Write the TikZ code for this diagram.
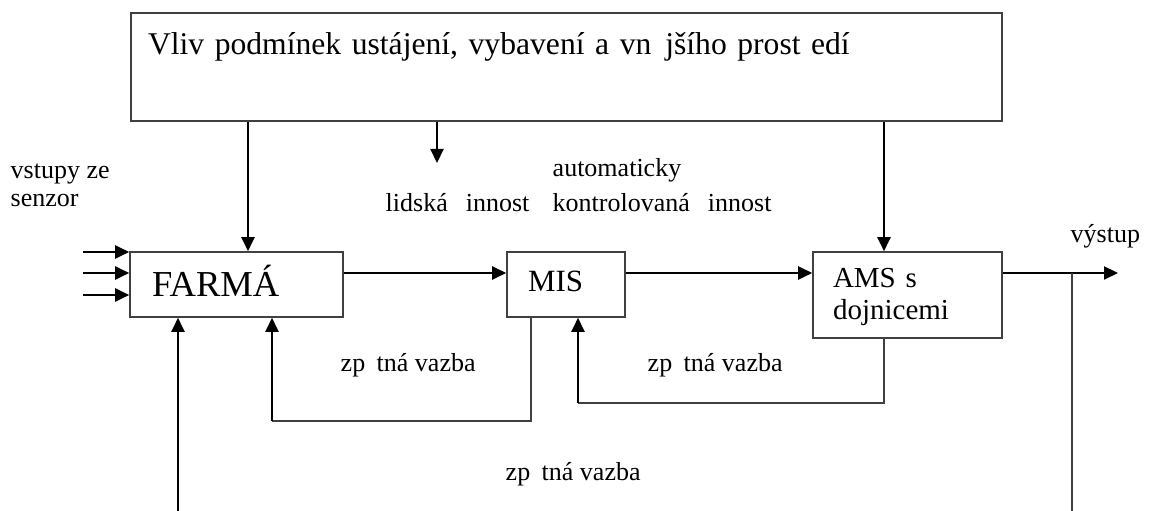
\documentclass[tikz,border=0pt]{standalone}
\usepackage{fontspec}
\setmainfont{Liberation Serif}
\usetikzlibrary{arrows.meta}
\begin{document}
\begin{tikzpicture}[every node/.style={font=\fontsize{7.4}{8.3}\selectfont},
  box/.style={draw=black!75,line width=0.45pt,align=left,inner ysep=0pt},
  arr/.style={-{Triangle[length=1.4mm,width=1.3mm]},line width=0.6pt},
  fb/.style={draw=black!75,line width=0.45pt},
  lbl/.style={inner sep=0pt,anchor=base west,align=left}]
  \useasboundingbox (0,0) rectangle (11.49,5.11);
  \node[box,minimum width=8.71cm,minimum height=1.08cm,inner xsep=0.17cm,text width=8.37cm,text height=0.23cm,text depth=0.47cm,font=\fontsize{9}{10}\selectfont] (env) at (5.665,4.44) {Vliv podmínek ustájení, vybavení a vn\hspace{0.44em}jšího prost\hspace{0.33em}edí};
  \node[box,minimum width=2.13cm,minimum height=0.65cm,inner xsep=0.22cm,text width=1.69cm,text height=0.25cm,text depth=0pt,font=\fontsize{10.4}{11}\selectfont] (farm) at (2.365,2.265) {FARMÁ};
  \node[box,minimum width=1.18cm,minimum height=0.65cm,inner xsep=0.21cm,text width=0.76cm,text height=0.15cm,text depth=0pt,font=\fontsize{8.8}{9}\selectfont] (mis) at (5.66,2.265) {MIS};
  \node[box,minimum width=1.89cm,minimum height=0.86cm,inner xsep=0.20cm,text width=1.49cm,text height=0.19cm,text depth=0.33cm,font=\fontsize{8.25}{9.1}\selectfont] (ams) at (9.075,2.16) {AMS s\\dojnicemi};
  \node[lbl,font=\fontsize{7.4}{8.25}\selectfont] (sens) at (0.10,3.04) {vstupy ze\\senzor};
  \node[lbl] (hum) at (3.85,2.99) {lidská\hspace{0.69em}innost};
  \node[lbl,font=\fontsize{7.4}{9.96}\selectfont] (auto) at (5.52,2.99) {automaticky\\kontrolovaná\hspace{0.69em}innost};
  \node[lbl] (outl) at (10.70,2.68) {výstup};
  \node[lbl] (fbA) at (3.40,1.39) {zp\hspace{0.44em}tná vazba};
  \node[lbl] (fbB) at (6.47,1.39) {zp\hspace{0.44em}tná vazba};
  \node[lbl] (fbC) at (5.05,0.31) {zp\hspace{0.44em}tná vazba};
  \coordinate (in1) at (0.83,2.59);
  \coordinate (in2) at (0.83,2.38);
  \coordinate (in3) at (0.83,2.16);
  \foreach \c in {in1,in2,in3} \draw[arr] (\c) -- (\c -| farm.west);
  \coordinate (xF) at (2.48,0);
  \coordinate (xA) at (8.84,0);
  \coordinate (act) at (4.37,3.48);
  \draw[arr] (xF |- env.south) -- (xF |- farm.north);
  \draw[arr] (act |- env.south) -- (act);
  \draw[arr] (xA |- env.south) -- (xA |- ams.north);
  \coordinate (flow) at (0,2.38);
  \coordinate (out) at (11.18,2.38);
  \coordinate (tap) at (10.72,2.38);
  \coordinate (tapEnd) at (10.72,0);
  \draw[arr] (flow -| farm.east) -- (flow -| mis.west);
  \draw[arr] (flow -| mis.east) -- (flow -| ams.west);
  \draw[arr] (flow -| ams.east) -- (out);
  \draw[fb] (tap) -- (tapEnd);
  \coordinate (m1) at ([xshift=-3.5mm]mis.south);
  \coordinate (loop1) at (2.72,0.90);
  \coordinate (loop2) at (5.78,1.08);
  \draw[fb] (m1) |- (loop1);
  \draw[arr] (loop1) -- (loop1 |- farm.south);
  \draw[fb] (xA |- ams.south) |- (loop2);
  \draw[arr] (loop2) -- (loop2 |- mis.south);
  \coordinate (ext) at (1.78,0);
  \draw[arr] (ext) -- (ext |- farm.south);
\end{tikzpicture}
\end{document}
